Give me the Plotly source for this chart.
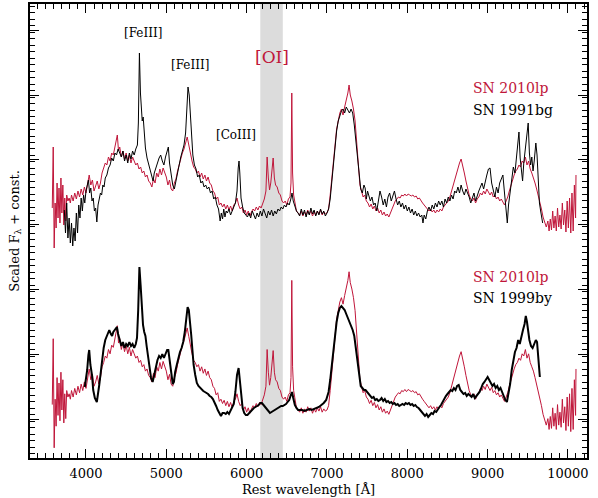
import plotly.graph_objects as go

# SN 2010lp nebular spectrum (scaled flux, arbitrary units, continuum ~0 near 6800 A)
wl_2010lp = [3580, 3592, 3604, 3616, 3628, 3640, 3652, 3664, 3676, 3688, 3700, 3712, 3724, 3736, 3748, 3760,
             3775, 3790, 3805, 3820, 3840, 3860, 3880, 3900, 3920, 3940, 3960, 3980, 4000, 4020, 4040, 4060,
             4080, 4100, 4120, 4140, 4160, 4180, 4200, 4220, 4240, 4260, 4280, 4300, 4320, 4340, 4360, 4375,
             4390, 4405, 4420, 4440, 4460, 4480, 4500, 4520, 4540, 4560, 4580, 4600, 4620, 4640, 4660, 4680,
             4700, 4720, 4740, 4760, 4780, 4800, 4820, 4840, 4860, 4880, 4900, 4920, 4940, 4960, 4980, 5000,
             5020, 5040, 5060, 5080, 5100, 5120, 5140, 5160, 5180, 5200, 5220, 5240, 5260, 5280, 5300, 5320,
             5340, 5360, 5380, 5400, 5420, 5440, 5460, 5480, 5500, 5520, 5540, 5560, 5580, 5600, 5620, 5640,
             5660, 5680, 5700, 5720, 5740, 5760, 5780, 5800, 5820, 5840, 5860, 5880, 5900, 5920, 5940, 5960,
             5980, 6000, 6020, 6040, 6060, 6080, 6100, 6120, 6140, 6160, 6180, 6200, 6220, 6240, 6255, 6270,
             6285, 6300, 6318, 6330, 6345, 6360, 6380, 6400, 6420, 6440, 6460, 6480, 6500, 6520, 6540, 6552,
             6562, 6572, 6585, 6600, 6620, 6640, 6660, 6680, 6700, 6720, 6740, 6760, 6780, 6800, 6820, 6840,
             6860, 6880, 6900, 6920, 6940, 6960, 6980, 7000, 7020, 7040, 7060, 7080, 7100, 7120, 7140, 7160,
             7180, 7200, 7220, 7240, 7260, 7275, 7290, 7310, 7330, 7350, 7370, 7390, 7410, 7430, 7450, 7470,
             7490, 7510, 7530, 7550, 7570, 7590, 7610, 7630, 7650, 7670, 7690, 7710, 7730, 7750, 7770, 7790,
             7810, 7830, 7850, 7870, 7890, 7910, 7930, 7950, 7970, 7990, 8010, 8030, 8050, 8070, 8090, 8110,
             8130, 8150, 8170, 8190, 8210, 8230, 8250, 8270, 8290, 8310, 8330, 8350, 8370, 8390, 8410, 8430,
             8450, 8470, 8490, 8510, 8530, 8550, 8570, 8590, 8610, 8630, 8650, 8670, 8690, 8710, 8730, 8750,
             8770, 8790, 8810, 8830, 8850, 8870, 8890, 8910, 8930, 8950, 8970, 8990, 9010, 9030, 9050, 9070,
             9090, 9110, 9130, 9150, 9170, 9190, 9210, 9230, 9250, 9270, 9290, 9310, 9330, 9350, 9370, 9390,
             9410, 9430, 9450, 9470, 9490, 9510, 9530, 9550, 9570, 9590, 9610, 9630, 9650, 9670, 9690, 9710,
             9730, 9750, 9765, 9780, 9795, 9810, 9825, 9840, 9855, 9870, 9885, 9900, 9915, 9930, 9945, 9960,
             9975, 9990, 10005, 10020, 10035, 10050, 10065, 10080, 10095, 10100]
fl_2010lp = [5, 66, -35, 10, -15, 30, -5, 25, -10, 35, 0, 28, -12, 15, -8, 18,
             12, 15, 10, 18, 12, 20, 14, 22, 16, 24, 18, 26, 20, 30, 38, 28,
             33, 22, 26, 32, 24, 30, 40, 44, 50, 48, 56, 52, 60, 58, 66, 72,
             78, 62, 66, 56, 62, 54, 60, 52, 58, 50, 56, 52, 48, 50, 44, 46,
             40, 42, 36, 38, 32, 30, 26, 34, 30, 40, 36, 44, 38, 45, 40, 36,
             28, 33, 24, 22, 30, 34, 42, 48, 56, 60, 64, 70, 76, 68, 58, 52,
             46, 44, 40, 42, 36, 40, 34, 38, 32, 36, 30, 28, 22, 20, 14, 16,
             8, 10, 6, 9, 4, 8, 3, 7, 2, 8, 10, 15, 8, 4, 6, 0,
             3, -2, 2, -3, 1, 4, 2, 6, 3, 7, 5, 9, 14, 22, 56, 35,
             23, 30, 48, 55, 35, 28, 26, 20, 18, 12, 10, 12, 8, 14, 16, 30,
             120, 40, 18, 10, 2, 0, -2, 2, -3, 1, -2, 3, -1, 2, -3, 1,
             -2, 2, -1, 3, -2, 1, -1, 0, 4, 18, 35, 55, 72, 84, 92, 100,
             104, 98, 106, 112, 120, 128, 118, 112, 104, 92, 70, 50, 28, 22, 16, 18,
             12, 10, 6, 9, 4, 7, 2, 5, 0, 3, -2, 1, -3, -1, -4, 0,
             4, 8, 12, 14, 16, 15, 18, 17, 19, 17, 19, 18, 17, 18, 16, 17,
             14, 15, 12, 10, 8, 6, 4, 2, 4, 1, 3, 0, 3, 1, 4, 2,
             6, 8, 10, 12, 16, 22, 28, 34, 40, 46, 50, 54, 48, 40, 32, 24,
             18, 14, 12, 15, 10, 14, 16, 20, 18, 22, 19, 24, 20, 18, 21, 16,
             18, 14, 16, 12, 14, 10, 8, 12, 16, 22, 28, 34, 38, 42, 44, 48,
             46, 52, 50, 56, 48, 52, 44, 40, 36, 30, 24, 18, 10, 4, -4, -10,
             -14, -8, -18, -6, -17, 2, -15, -3, -18, 5, -14, -2, -16, 10, -12, 3,
             -19, 12, -15, 15, -20, 20, -18, 28, -5, 38]

# SN 1991bg
wl_1991bg = [3730, 3745, 3760, 3775, 3790, 3805, 3820, 3835, 3850, 3865, 3880, 3895, 3910, 3925, 3940, 3955,
             3970, 3985, 4000, 4015, 4030, 4045, 4060, 4075, 4090, 4105, 4120, 4135, 4150, 4165, 4180, 4195,
             4210, 4225, 4240, 4260, 4280, 4300, 4320, 4340, 4360, 4380, 4400, 4420, 4440, 4460, 4480, 4500,
             4520, 4540, 4560, 4580, 4600, 4620, 4640, 4652, 4665, 4678, 4690, 4700, 4712, 4725, 4740, 4760,
             4780, 4800, 4820, 4835, 4850, 4870, 4890, 4910, 4930, 4950, 4970, 4990, 5010, 5025, 5040, 5060,
             5080, 5100, 5120, 5140, 5160, 5180, 5200, 5220, 5240, 5255, 5270, 5285, 5300, 5315, 5330, 5350,
             5370, 5390, 5410, 5430, 5450, 5470, 5490, 5510, 5530, 5550, 5570, 5590, 5610, 5630, 5650, 5670,
             5685, 5700, 5715, 5730, 5745, 5760, 5780, 5800, 5820, 5840, 5860, 5880, 5895, 5905, 5915, 5930,
             5950, 5970, 5990, 6010, 6030, 6050, 6070, 6090, 6110, 6130, 6150, 6170, 6190, 6210, 6230, 6250,
             6270, 6290, 6310, 6330, 6350, 6370, 6390, 6410, 6430, 6450, 6470, 6490, 6510, 6530, 6550, 6565,
             6580, 6600, 6620, 6640, 6660, 6680, 6700, 6720, 6740, 6760, 6780, 6800, 6820, 6840, 6860, 6880,
             6900, 6920, 6940, 6960, 6980, 7000, 7020, 7040, 7060, 7080, 7100, 7120, 7140, 7160, 7180, 7200,
             7220, 7240, 7260, 7280, 7300, 7320, 7340, 7360, 7380, 7400, 7420, 7440, 7460, 7475, 7490, 7505,
             7520, 7540, 7560, 7580, 7600, 7620, 7640, 7660, 7680, 7700, 7720, 7740, 7760, 7780, 7800, 7820,
             7840, 7860, 7880, 7900, 7920, 7940, 7960, 7980, 8000, 8020, 8040, 8060, 8080, 8100, 8120, 8140,
             8160, 8180, 8195, 8210, 8230, 8250, 8270, 8290, 8310, 8330, 8350, 8370, 8390, 8410, 8430, 8450,
             8470, 8490, 8510, 8530, 8550, 8570, 8590, 8610, 8630, 8650, 8670, 8690, 8710, 8730, 8750, 8770,
             8790, 8810, 8830, 8850, 8870, 8890, 8910, 8930, 8950, 8970, 8990, 9010, 9030, 9050, 9070, 9090,
             9110, 9130, 9150, 9170, 9190, 9210, 9230, 9245, 9260, 9280, 9300, 9320, 9340, 9360, 9375, 9390,
             9405, 9420, 9435, 9450, 9465, 9480, 9495, 9505, 9520, 9535, 9550, 9565, 9580, 9600, 9615, 9630,
             9645, 9660, 9675, 9685]
fl_1991bg = [3, -20, 10, -25, -5, -30, -10, -33, -15, -28, 0, -20, 8, -5, 15, 2,
             18, 10, 22, 28, 33, 20, 25, 12, 15, 2, 5, -9, 8, 14, 20, 18,
             28, 26, 35, 38, 45, 48, 55, 52, 60, 58, 64, 60, 56, 62, 52, 58,
             50, 60, 54, 62, 58, 64, 68, 90, 160, 120, 95, 92, 96, 78, 65, 55,
             48, 42, 36, 32, 40, 46, 50, 55, 58, 52, 48, 56, 62, 66, 50, 38,
             28, 24, 32, 42, 48, 56, 62, 68, 80, 105, 126, 118, 100, 80, 58, 48,
             44, 36, 38, 30, 32, 26, 28, 24, 26, 20, 22, 14, 16, 8, 4, -8,
             0, -6, 4, -4, 2, 0, 4, -2, 3, 6, 10, 22, 45, 52, 40, 15,
             6, 0, -2, -4, 0, -5, 2, -3, -6, 0, -4, 2, -3, 4, 0, -5,
             2, -2, 3, -3, 2, -1, 4, 2, 6, 4, 8, 6, 10, 8, 14, 20,
             12, 6, 2, 0, -3, 4, -2, 3, -4, 2, -2, 5, -1, 3, -3, 2,
             -2, 4, -1, 2, -3, 0, 4, 14, 30, 50, 68, 82, 92, 98, 102, 104,
             100, 106, 102, 100, 104, 100, 88, 72, 55, 34, 24, 20, 28, 25, 14, 22,
             18, 12, 16, 8, 10, 2, 12, 22, 16, 8, 14, 6, 16, 20, 12, 18,
             22, 14, 8, 12, 6, 10, 4, 8, 2, 6, 0, 4, -2, 2, -3, 0,
             -4, -2, -10, -2, -6, 2, 6, 2, 8, 4, 10, 6, 12, 8, 12, 6,
             14, 10, 16, 12, 18, 14, 22, 20, 26, 20, 28, 22, 18, 24, 20, 16,
             10, 14, 20, 12, 18, 22, 26, 30, 24, 32, 38, 44, 45, 30, 22, 16,
             26, 20, 30, 34, 38, 20, 0, -10, 8, 22, 36, 46, 40, 60, 70, 81,
             55, 40, 32, 50, 62, 70, 80, 90, 60, 48, 56, 42, 52, 70, 58, 30,
             10, 2, -8, -10]

# SN 1999by
wl_1999by = [3985, 4000, 4015, 4030, 4040, 4055, 4075, 4090, 4110, 4135, 4150, 4165, 4180, 4200, 4220, 4240,
             4260, 4275, 4290, 4310, 4325, 4340, 4360, 4385, 4400, 4420, 4440, 4460, 4480, 4500, 4520, 4540,
             4560, 4580, 4600, 4620, 4635, 4650, 4665, 4680, 4695, 4710, 4725, 4740, 4755, 4770, 4790, 4810,
             4830, 4850, 4870, 4890, 4910, 4930, 4950, 4970, 4990, 5010, 5025, 5040, 5060, 5080, 5095, 5110,
             5130, 5150, 5170, 5190, 5210, 5230, 5250, 5265, 5280, 5295, 5310, 5325, 5340, 5360, 5380, 5400,
             5420, 5440, 5460, 5480, 5500, 5520, 5540, 5560, 5580, 5600, 5620, 5640, 5660, 5680, 5700, 5720,
             5740, 5760, 5780, 5800, 5820, 5840, 5860, 5880, 5900, 5915, 5930, 5950, 5970, 5990, 6010, 6030,
             6050, 6070, 6090, 6110, 6130, 6150, 6170, 6190, 6210, 6230, 6250, 6270, 6290, 6310, 6330, 6350,
             6370, 6390, 6410, 6430, 6450, 6470, 6490, 6510, 6530, 6550, 6565, 6580, 6600, 6620, 6640, 6660,
             6690, 6720, 6750, 6780, 6810, 6840, 6870, 6900, 6930, 6960, 6990, 7020, 7040, 7060, 7080, 7100,
             7120, 7140, 7160, 7180, 7200, 7220, 7240, 7260, 7280, 7300, 7320, 7340, 7360, 7380, 7400, 7420,
             7440, 7460, 7480, 7500, 7520, 7540, 7560, 7580, 7600, 7620, 7640, 7660, 7680, 7700, 7720, 7740,
             7760, 7780, 7800, 7820, 7840, 7860, 7880, 7900, 7920, 7940, 7960, 7980, 8000, 8020, 8040, 8060,
             8080, 8100, 8120, 8140, 8160, 8180, 8200, 8220, 8240, 8260, 8280, 8300, 8320, 8340, 8360, 8380,
             8400, 8420, 8440, 8460, 8480, 8500, 8520, 8540, 8560, 8580, 8600, 8620, 8640, 8660, 8680, 8700,
             8720, 8740, 8760, 8780, 8800, 8820, 8840, 8860, 8880, 8900, 8920, 8940, 8960, 8980, 9000, 9020,
             9040, 9060, 9080, 9100, 9120, 9140, 9160, 9180, 9200, 9220, 9240, 9260, 9280, 9300, 9320, 9340,
             9360, 9380, 9400, 9420, 9440, 9460, 9475, 9490, 9505, 9520, 9540, 9560, 9580, 9600, 9615, 9630,
             9645, 9650]
fl_1999by = [23, 30, 40, 55, 60, 45, 35, 20, 12, 8, 15, 25, 35, 50, 62, 70,
             74, 78, 80, 76, 74, 78, 80, 83, 76, 70, 64, 68, 62, 66, 64, 68,
             64, 66, 62, 66, 72, 100, 143, 125, 100, 85, 78, 74, 64, 55, 40, 32,
             28, 36, 44, 50, 54, 52, 56, 52, 56, 60, 60, 50, 40, 26, 28, 38,
             45, 52, 58, 62, 68, 78, 92, 103, 100, 90, 75, 60, 45, 35, 27, 24,
             22, 20, 19, 18, 17, 16, 14, 13, 11, 8, 4, 0, -4, -6, -3, -3,
             -4, -2, -4, -1, 2, 6, 18, 35, 42, 30, 15, 2, -3, -5, -5, -3,
             -1, 0, 2, 3, 4, 5, 7, 7, 5, 3, 0, -2, -3, -2, -1, 0,
             1, 2, 3, 4, 4, 5, 6, 8, 10, 15, 18, 12, 5, 2, 0, 0,
             0, -1, 0, 1, 0, 1, 2, 3, 5, 7, 10, 18, 30, 45, 60, 75,
             88, 97, 102, 104, 102, 100, 96, 92, 88, 85, 80, 74, 62, 50, 35, 24,
             22, 20, 20, 18, 16, 14, 12, 13, 10, 11, 9, 10, 12, 9, 11, 8,
             9, 7, 8, 6, 7, 5, 6, 4, 5, 6, 5, 7, 6, 7, 5, 6,
             4, 5, 3, 2, 0, -2, -4, -6, -4, -7, -5, -3, -4, -1, -2, 1,
             3, 5, 8, 12, 14, 16, 18, 20, 19, 22, 20, 24, 25, 20, 18, 16,
             17, 14, 16, 14, 13, 16, 12, 14, 16, 18, 22, 26, 28, 30, 33, 30,
             26, 24, 26, 22, 24, 20, 22, 18, 14, 10, 8, 16, 26, 40, 50, 58,
             62, 70, 66, 74, 80, 86, 94, 88, 78, 70, 64, 62, 66, 70, 68, 55,
             35, 33]

# constants added to each spectrum, and the extra scaling of SN 2010lp in the lower pair
offset_top = 247
offset_bottom = 50
scale_2010lp_bottom = 1.08

red = "#c0163a"
font = "DejaVu Serif"

fig = go.Figure()

fig.add_vrect(x0=6170, x1=6450, fillcolor="#dcdcdc", opacity=1, line_width=0, layer="below")

fig.add_trace(go.Scatter(x=wl_2010lp, y=[v + offset_top for v in fl_2010lp], mode="lines",
                         line=dict(color=red, width=1)))
fig.add_trace(go.Scatter(x=wl_1991bg, y=[v + offset_top for v in fl_1991bg], mode="lines",
                         line=dict(color="black", width=1)))
fig.add_trace(go.Scatter(x=wl_2010lp, y=[v * scale_2010lp_bottom + offset_bottom for v in fl_2010lp],
                         mode="lines", line=dict(color=red, width=1)))
fig.add_trace(go.Scatter(x=wl_1999by, y=[v + offset_bottom for v in fl_1999by], mode="lines",
                         line=dict(color="black", width=2)))

# line identifications
fig.add_annotation(x=4710, y=427, text="[FeIII]", showarrow=False, font=dict(size=12, color="black"))
fig.add_annotation(x=5295, y=395, text="[FeIII]", showarrow=False, font=dict(size=12, color="black"))
fig.add_annotation(x=5870, y=325, text="[CoIII]", showarrow=False, font=dict(size=12, color="black"))
fig.add_annotation(x=6310, y=403, text="[OI]", showarrow=False, font=dict(size=17, color=red))

# labels for each pair
fig.add_annotation(x=8790, y=372, text="SN 2010lp", showarrow=False, xanchor="left",
                   font=dict(size=14, color=red))
fig.add_annotation(x=8790, y=350, text="SN 1991bg", showarrow=False, xanchor="left",
                   font=dict(size=14, color="black"))
fig.add_annotation(x=8790, y=183, text="SN 2010lp", showarrow=False, xanchor="left",
                   font=dict(size=14, color=red))
fig.add_annotation(x=8790, y=162, text="SN 1999by", showarrow=False, xanchor="left",
                   font=dict(size=14, color="black"))

fig.update_xaxes(range=[3303, 10237], tickmode="linear", tick0=4000, dtick=1000, tickformat="d",
                 ticks="inside", ticklen=9, tickwidth=1, tickcolor="black", ticklabelstandoff=3,
                 minor=dict(dtick=100, ticklen=5, ticks="inside", tickcolor="black"),
                 showline=True, linecolor="black", linewidth=1.5, mirror="ticks",
                 showgrid=False, zeroline=False, automargin=False,
                 title=dict(text="Rest wavelength [Å]", font=dict(size=13), standoff=5))
fig.update_yaxes(range=[2, 456], tickmode="linear", tick0=41, dtick=64.8,
                 ticks="inside", ticklen=9, tickwidth=1, tickcolor="black",
                 minor=dict(dtick=6.48, ticklen=5, ticks="inside", tickcolor="black"),
                 showticklabels=False,
                 showline=True, linecolor="black", linewidth=1.5, mirror="ticks",
                 showgrid=False, zeroline=False, automargin=False,
                 title=dict(text="Scaled F<sub>λ</sub> + const.", font=dict(size=13), standoff=6))

fig.update_layout(width=598, height=498, showlegend=False,
                  margin=dict(l=30, r=11, t=4, b=40),
                  plot_bgcolor="white", paper_bgcolor="white",
                  font=dict(family=font, size=13, color="black"))

# drop the page's default body margin so the 598x498 figure fills the window
fig.write_html("out.html", config={"displayModeBar": False},
               post_script="document.body.style.margin = '0px';")
